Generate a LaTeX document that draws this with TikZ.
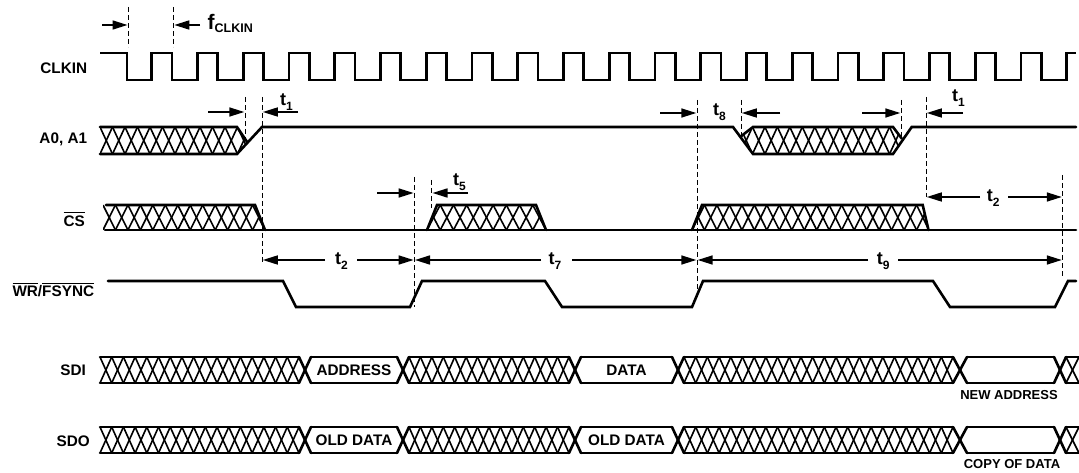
\documentclass[tikz,border=0pt]{standalone}
\usepackage{fontspec}
\setmainfont{Liberation Sans}
\usetikzlibrary{arrows.meta}
\newcommand\hx[6][hat]{%
  \pgfmathsetmacro\hq{(#3-#2)/#4}%
  \foreach \k in {1,...,#4}{%
    \draw[#1] ({#2+(\k-1)*\hq},#5) -- ({#2+\k*\hq},#6);
    \draw[#1] ({#2+(\k-1)*\hq},#6) -- ({#2+\k*\hq},#5);
  }}
\newcommand\busrow[2]{%
  \foreach \a/\b in {100/299,311/397,409/569,581/672,684/953,967/1054,1066/1079}{%
    \draw[sig] (\a,#1) -- (\b,#1) (\a,#2) -- (\b,#2);}
  \hx{100}{299}{17}{#1}{#2}
  \hx[sig]{299}{311}{1}{#1}{#2}
  \hx[sig]{397}{409}{1}{#1}{#2}
  \hx{409}{569}{14}{#1}{#2}
  \hx[sig]{569}{581}{1}{#1}{#2}
  \hx[sig]{672}{684}{1}{#1}{#2}
  \hx{684}{953}{23}{#1}{#2}
  \hx[sig]{953}{967}{1}{#1}{#2}
  \hx[sig]{1054}{1066}{1}{#1}{#2}
  \hx{1066}{1079}{1}{#1}{#2}
}
\newcommand\ovl[1]{\vbox{\hrule height 1.4pt\kern 2pt\hbox{#1}}}
\newcommand\tsub[1]{{\fontsize{18}{18}\selectfont t}\raisebox{-4.5pt}{\fontsize{12}{12}\selectfont #1}}
\newcommand\fsub{{\fontsize{21}{21}\selectfont f}\raisebox{-2.6pt}{\fontsize{12.5}{12.5}\selectfont CLKIN}}
\begin{document}
\begin{tikzpicture}[x=1pt,y=-1pt,
  sig/.style={line width=2.6pt,line cap=round},
  hat/.style={line width=1.6pt},
  dsh/.style={line width=1pt,dash pattern=on 5pt off 3pt},
  dim/.style={line width=1.6pt,-{Triangle[length=15pt,width=9pt]}},
  lab/.style={font=\bfseries\fontsize{15.3}{16}\selectfont,inner sep=0pt},
  small/.style={font=\bfseries\fontsize{13}{14}\selectfont,inner sep=0pt}]
\useasboundingbox (0,0) rectangle (1079,473);

% signal names
\node[lab,anchor=base east] (nclk) at (87.3,74) {CLKIN};
\node[lab,anchor=base east] (na) at (87.3,143.5) {A0, A1};
\node[lab,anchor=base east] (ncs) at (85,226) {\ovl{CS}};
\node[lab,anchor=base east] (nwr) at (94.3,296.7) {\ovl{WR}/\ovl{FSYNC}};
\node[lab,anchor=base east] (nsdi) at (86,375) {SDI};
\node[lab,anchor=base east] (nsdo) at (90,446) {SDO};

% CLKIN
\draw[sig,line cap=butt] (100,53) -- (127,53) -- (127,80)
  foreach \n in {0,...,19} { -- ({151.7+45.75*\n},80) -- ({151.7+45.75*\n},53) -- ({172+45.75*\n},53) -- ({172+45.75*\n},80) }
  -- (1066.7,80) -- (1066.7,53) -- (1076,53);

% A0, A1
\begin{scope}
  \clip (100,127) -- (237,127) -- (247.5,142.5) -- (237,154) -- (100,154) -- cycle;
  \hx{100}{250}{12}{127}{154}
\end{scope}
\draw[sig] (100,127) -- (237,127) -- (247.5,142.5);
\draw[sig] (100,154) -- (237,154) -- (262,127) -- (733,127) -- (753,154) -- (893,154) -- (911.7,127) -- (1076,127);
\begin{scope}
  \clip (740.7,136.5) -- (753,127) -- (893,127) -- (901.7,138.5) -- (893,154) -- (753,154) -- cycle;
  \hx{740}{902}{13}{127}{154}
\end{scope}
\draw[sig] (740.7,136.5) -- (753,127) -- (893,127) -- (901.7,138.5);

% CS
\draw[sig] (105,230) -- (1076,230);
\begin{scope}
  \clip (103,205) -- (255,205) -- (265,230) -- (103,230) -- cycle;
  \hx{103}{265}{13}{205}{230}
\end{scope}
\draw[sig] (106,205) -- (255,205) -- (265,230);
\begin{scope}
  \clip (427,230) -- (437,205) -- (536,205) -- (546,230) -- cycle;
  \hx{427}{546}{9}{205}{230}
\end{scope}
\draw[sig] (427,230) -- (437,205) -- (536,205) -- (546,230);
\begin{scope}
  \clip (692,230) -- (702,205) -- (922.7,205) -- (928.5,230) -- cycle;
  \hx{692}{929}{19}{205}{230}
\end{scope}
\draw[sig] (692,230) -- (702,205) -- (922.7,205) -- (928.5,230);

% WR/FSYNC
\draw[sig] (108,281) -- (283,281) -- (296,307) -- (410,307) -- (422,281) -- (545,281) -- (562,307) -- (692,307) -- (703,281) -- (933,281) -- (950,307) -- (1055,307) -- (1068,281) -- (1076,281);

% SDI / SDO
\busrow{357}{383}
\busrow{427}{453}
\node[lab] (tad) at (354,370) {ADDRESS};
\node[lab] (tda) at (626.5,370) {DATA};
\node[lab] (tod1) at (354,440) {OLD DATA};
\node[lab] (tod2) at (626.5,440) {OLD DATA};
\node[small] (tna) at (1009,395.5) {NEW ADDRESS};
\node[small] (tcd) at (1012,464.5) {COPY OF DATA};

% dashed reference lines
\draw[dsh] (128.3,7) -- (128.3,47);
\draw[dsh] (173.3,7) -- (173.3,47);
\draw[dsh] (245,97) -- (245,140);
\draw[dsh] (262,97) -- (262,263);
\draw[dsh] (414.3,177) -- (414.3,307);
\draw[dsh] (431.7,180) -- (431.7,208);
\draw[dsh] (697,100) -- (697,290);
\draw[dsh] (741,100) -- (741,137);
\draw[dsh] (901,100) -- (901,137);
\draw[dsh] (926,97) -- (926,197);
\draw[dsh] (1062.5,175) -- (1062.5,278);

% dimension arrows
\draw[dim] (102,25) -- (127.5,25);
\draw[dim] (200,25) -- (174.3,25);
\node[anchor=base west,inner sep=0pt,font=\bfseries] (tf) at (207.5,30) {\fsub};

\draw[dim] (208,112) -- (244.3,112);
\draw[dim] (298,112) -- (262.8,112);
\node[anchor=base west,inner sep=0pt,font=\bfseries] (tt1a) at (280,106) {\tsub{1}};

\draw[dim] (660,113) -- (696.3,113);
\draw[dim] (780,113) -- (741.8,113);
\node[anchor=base west,inner sep=0pt,font=\bfseries] (tt8) at (713,116) {\tsub{8}};
\draw[dim] (862,113) -- (900.3,113);
\draw[dim] (963,113) -- (926.8,113);
\node[anchor=base west,inner sep=0pt,font=\bfseries] (tt1b) at (952,102) {\tsub{1}};

\draw[dim] (377,193) -- (413.6,193);
\draw[dim] (468,193) -- (432.5,193);
\node[anchor=base west,inner sep=0pt,font=\bfseries] (tt5) at (453,186) {\tsub{5}};

\draw[dim] (980,197) -- (926.8,197);
\draw[dim] (1008,197) -- (1061.8,197);
\node[anchor=base west,inner sep=0pt,font=\bfseries] (tt2b) at (986.7,202) {\tsub{2}};

\draw[dim] (325,260) -- (262.8,260);
\draw[dim] (357,260) -- (413.6,260);
\node[anchor=base west,inner sep=0pt,font=\bfseries] (tt2a) at (335,265) {\tsub{2}};
\draw[dim] (541,260) -- (415,260);
\draw[dim] (572,260) -- (696.3,260);
\node[anchor=base west,inner sep=0pt,font=\bfseries] (tt7) at (548.3,265) {\tsub{7}};
\draw[dim] (868,260) -- (697.7,260);
\draw[dim] (898,260) -- (1061.8,260);
\node[anchor=base west,inner sep=0pt,font=\bfseries] (tt9) at (876.7,265) {\tsub{9}};
\end{tikzpicture}
\end{document}
